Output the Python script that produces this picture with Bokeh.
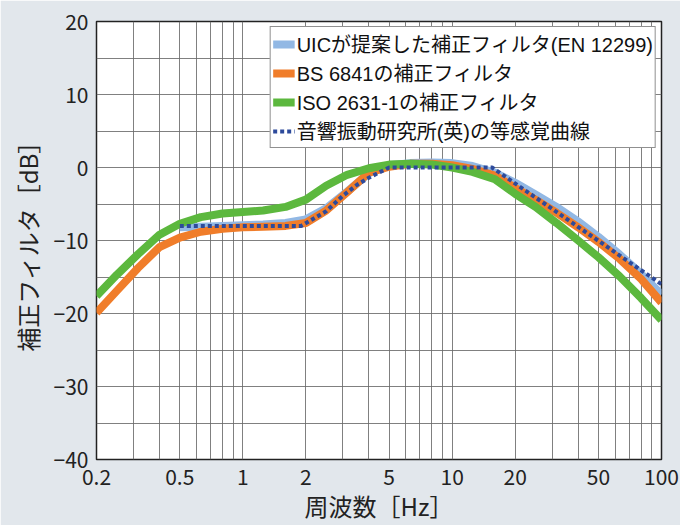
from bokeh.plotting import figure
from bokeh.models import FixedTicker, Legend, LegendItem
from bokeh.embed import file_html
from bokeh.resources import INLINE

# ---- data ----
freq = [0.2, 0.25, 0.315, 0.4, 0.5, 0.63, 0.8, 1, 1.25, 1.6, 2, 2.5, 3.15, 4, 5,
        6.3, 8, 10, 12.5, 16, 20, 25, 31.5, 40, 50, 63, 80, 100]
bs6841 = [-19.9, -16.9, -13.8, -10.9, -9.6, -8.8, -8.4, -8.2, -8.1, -8.0, -7.6,
          -5.9, -3.4, -0.7, 0.1, 0.5, 0.5, 0.3, -0.2, -1.1, -2.8, -4.4, -6.2,
          -8.2, -10.2, -12.5, -15.3, -18.5]
iso2631 = [-17.6, -14.7, -11.9, -9.2, -7.7, -6.8, -6.3, -6.1, -5.9, -5.4, -4.4,
           -2.5, -1.0, -0.1, 0.4, 0.5, 0.4, 0.0, -0.6, -1.6, -3.6, -5.4, -7.6,
           -10.0, -12.3, -14.9, -17.9, -20.9]
freq_uic = [0.5, 0.63, 0.8, 1, 1.25, 1.6, 2, 2.5, 3.15, 4, 5, 6.3, 8, 10, 12.5,
            16, 20, 25, 31.5, 40, 50, 63, 80, 100]
uic = [-8.2, -8.1, -8.0, -7.9, -7.8, -7.6, -7.1, -5.6, -3.3, -0.8, 0.3, 0.6, 0.7,
       0.6, 0.2, -0.7, -2.1, -3.7, -5.4, -7.4, -9.5, -11.9, -14.6, -17.4]
freq_eq = [0.5, 1.9, 2.5, 3, 3.5, 4, 5, 15.5, 100]
equal_sense = [-8.0, -8.0, -6.0, -3.9, -2.4, -1.4, 0.0, 0.0, -16.0]

x_label_ticks = [0.2, 0.5, 1, 2, 5, 10, 20, 50, 100]
x_grid_ticks = [0.3, 0.4, 0.5, 0.6, 0.7, 0.8, 0.9, 1, 2, 3, 4, 5, 6, 7, 8, 9,
                10, 20, 30, 40, 50, 60, 70, 80, 90]
y_label_ticks = [-40, -30, -20, -10, 0, 10, 20]
y_grid_ticks = [-35, -30, -25, -20, -15, -10, -5, 0, 5, 10, 15]

labels = ["UICが提案した補正フィルタ(EN 12299)", "BS 6841の補正フィルタ",
          "ISO 2631-1の補正フィルタ", "音響振動研究所(英)の等感覚曲線"]

FONT = "Noto Sans CJK JP"
LEGEND_FONT = "Liberation Sans, Noto Sans CJK JP"
BG = "#e2e7ec"

p = figure(width=680, height=525, x_axis_type="log", x_range=(0.2, 100),
           y_range=(-40, 20), output_backend="svg", toolbar_location=None,
           min_border_left=96, min_border_right=19, min_border_top=21,
           min_border_bottom=64)
p.border_fill_color = BG
p.background_fill_color = "white"
p.outline_line_color = "#222222"
p.outline_line_width = 1.5

r1 = p.line(freq_uic, uic, line_color="#92b8e4", line_width=8, line_join="round")
r2 = p.line(freq, bs6841, line_color="#f07d2a", line_width=8, line_join="round")
r3 = p.line(freq, iso2631, line_color="#5cb83e", line_width=8, line_join="round")
r4 = p.line(freq_eq, equal_sense, line_color="#2d4a9b", line_width=4,
            line_dash="4 3")

# grids
p.xgrid.ticker = FixedTicker(ticks=x_grid_ticks)
p.ygrid.ticker = FixedTicker(ticks=y_grid_ticks)
for g in (p.xgrid, p.ygrid):
    g.grid_line_color = "#6a6a6a"
    g.grid_line_width = 1
    g.grid_line_alpha = 0.85

# axes
p.xaxis.ticker = FixedTicker(ticks=x_label_ticks)
p.yaxis.ticker = FixedTicker(ticks=y_label_ticks)
p.xaxis.major_label_overrides = {0.2: "0.2", 0.5: "0.5", 1: "1", 2: "2", 5: "5",
                                 10: "10", 20: "20", 50: "50", 100: "100"}
p.yaxis.major_label_overrides = {v: (str(v).replace("-", "−")) for v in y_label_ticks}
p.xaxis.axis_label = "周波数［Hz］"
p.yaxis.axis_label = "補正フィルタ［dB］"
for ax in (p.xaxis, p.yaxis):
    ax.axis_line_color = None
    ax.major_tick_line_color = None
    ax.minor_tick_line_color = None
    ax.major_tick_out = 0
    ax.major_tick_in = 0
    ax.minor_tick_out = 0
    ax.minor_tick_in = 0
    ax.major_label_text_font = FONT
    ax.major_label_text_font_size = "21px"
    ax.major_label_text_color = "#222222"
    ax.axis_label_text_font = FONT
    ax.axis_label_text_font_size = "24px"
    ax.axis_label_text_font_style = "normal"
    ax.axis_label_text_color = "#222222"
p.xaxis.major_label_standoff = 9
p.xaxis.axis_label_standoff = 0
p.yaxis.major_label_standoff = 8
p.yaxis.axis_label_standoff = 6

legend = Legend(items=[LegendItem(label=labels[0], renderers=[r1]),
                       LegendItem(label=labels[1], renderers=[r2]),
                       LegendItem(label=labels[2], renderers=[r3]),
                       LegendItem(label=labels[3], renderers=[r4])],
                location="top_right")
legend.margin = 5
legend.padding = 2
legend.spacing = 0
legend.label_standoff = 2
legend.glyph_width = 22
legend.glyph_height = 20
legend.label_height = 20
legend.label_text_font = LEGEND_FONT
legend.label_text_font_size = "20px"
legend.label_text_line_height = 1.0
legend.label_text_color = "#111111"
legend.border_line_color = "#222222"
legend.border_line_width = 1
legend.background_fill_color = "white"
legend.background_fill_alpha = 1
p.add_layout(legend, "center")

open("out.html", "w").write(file_html(p, INLINE))
